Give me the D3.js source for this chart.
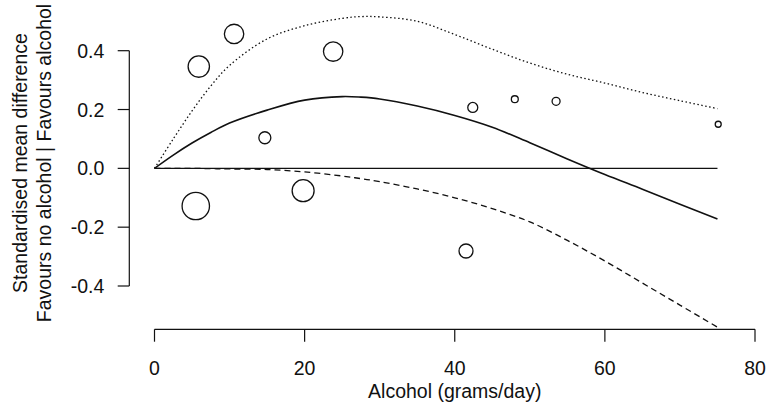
<!DOCTYPE html>
<html>
<head>
<meta charset="utf-8">
<script src="https://cdn.jsdelivr.net/npm/d3@7"></script>
<style>
  body { margin: 0; background: #fff; }
  text { font-family: "Liberation Sans", Arial, Helvetica, sans-serif; fill: #111; }
</style>
</head>
<body>
<div id="chart"></div>
<script>
// Study points (alcohol g/day, SMD, weight)
const studyDose = [5.9, 10.6, 23.8, 14.7, 5.5, 19.8, 41.5, 42.4, 48.0, 53.5, 75.1];
const studySmd = [0.346, 0.457, 0.397, 0.104, -0.128, -0.076, -0.281, 0.207, 0.235, 0.228, 0.150];
const studyWeight = [114, 94, 94, 36, 188, 121, 49, 25, 12, 16, 9];

// Fitted curve and confidence bounds
const curveDose = [0, 2.5, 5, 7.5, 10, 15, 20, 25, 27.5, 30, 35, 40, 45, 50, 55, 60, 65, 70, 75];
const fitSmd   = [0, 0.045, 0.086, 0.122, 0.154, 0.198, 0.232, 0.244, 0.242, 0.236, 0.212, 0.180, 0.140, 0.087, 0.032, -0.021, -0.071, -0.122, -0.172];
const upperSmd = [0, 0.10, 0.195, 0.28, 0.35, 0.44, 0.485, 0.51, 0.516, 0.515, 0.50, 0.455, 0.405, 0.358, 0.320, 0.29, 0.258, 0.23, 0.203];
const lowerSmd = [0, 0, 0, -0.001, -0.002, -0.004, -0.012, -0.026, -0.035, -0.045, -0.07, -0.10, -0.137, -0.182, -0.245, -0.315, -0.39, -0.465, -0.54];

const xTicks = [0, 20, 40, 60, 80];
const yTicks = [-0.4, -0.2, 0.0, 0.2, 0.4];

const svgWidth = 766, svgHeight = 404;

const svg = d3.select("#chart")
  .append("svg")
  .attr("width", svgWidth)
  .attr("height", svgHeight);

const x = d3.scaleLinear().domain([0, 80]).range([154.5, 755]);
const y = d3.scaleLinear().domain([-0.4, 0.4]).range([286, 50.7]);
const r = d3.scaleSqrt().domain([0, d3.max(studyWeight)]).range([0, 13.7]);

const fontSize = 19.5;

// x axis (R style: line spans first to last tick)
const xAxisG = svg.append("g").attr("transform", "translate(0,329.3)");
xAxisG.append("line")
  .attr("x1", x(xTicks[0])).attr("x2", x(xTicks[xTicks.length - 1]))
  .attr("stroke", "#111").attr("stroke-width", 1.2);
xAxisG.selectAll("line.tick")
  .data(xTicks).enter().append("line")
  .attr("class", "tick")
  .attr("x1", d => x(d)).attr("x2", d => x(d))
  .attr("y1", 0).attr("y2", 12.4)
  .attr("stroke", "#111").attr("stroke-width", 1.2);
xAxisG.selectAll("text")
  .data(xTicks).enter().append("text")
  .attr("x", d => x(d)).attr("y", 46)
  .attr("text-anchor", "middle")
  .attr("font-size", fontSize)
  .text(d => d);

svg.append("text")
  .attr("x", x(40)).attr("y", 398)
  .attr("text-anchor", "middle")
  .attr("font-size", fontSize)
  .text("Alcohol (grams/day)");

// y axis
const yAxisG = svg.append("g").attr("transform", "translate(129.3,0)");
yAxisG.append("line")
  .attr("y1", y(yTicks[0])).attr("y2", y(yTicks[yTicks.length - 1]))
  .attr("stroke", "#111").attr("stroke-width", 1.2);
yAxisG.selectAll("line.tick")
  .data(yTicks).enter().append("line")
  .attr("class", "tick")
  .attr("y1", d => y(d)).attr("y2", d => y(d))
  .attr("x1", 0).attr("x2", -11.6)
  .attr("stroke", "#111").attr("stroke-width", 1.2);
yAxisG.selectAll("text")
  .data(yTicks).enter().append("text")
  .attr("x", -25).attr("y", d => y(d))
  .attr("dy", "0.36em")
  .attr("text-anchor", "end")
  .attr("font-size", fontSize)
  .text(d => d.toFixed(1));

const yLabelY = 163;
svg.append("text")
  .attr("transform", `translate(27,${yLabelY})rotate(-90)`)
  .attr("text-anchor", "middle")
  .attr("font-size", fontSize)
  .text("Standardised mean difference");
svg.append("text")
  .attr("transform", `translate(51,${yLabelY})rotate(-90)`)
  .attr("text-anchor", "middle")
  .attr("font-size", fontSize)
  .text("Favours no alcohol | Favours alcohol");

// zero reference line
svg.append("line")
  .attr("x1", x(0)).attr("x2", x(d3.max(curveDose)))
  .attr("y1", y(0)).attr("y2", y(0))
  .attr("stroke", "#111").attr("stroke-width", 1.3);

// curves
const line = vals => d3.line()
  .x((d, i) => x(curveDose[i]))
  .y((d, i) => y(vals[i]))
  .curve(d3.curveCatmullRom.alpha(0.5))(vals);

svg.append("path")
  .attr("d", line(upperSmd))
  .attr("fill", "none").attr("stroke", "#111")
  .attr("stroke-width", 1.3).attr("stroke-dasharray", "1.5,2.5");

svg.append("path")
  .attr("d", line(lowerSmd))
  .attr("fill", "none").attr("stroke", "#111")
  .attr("stroke-width", 1.3).attr("stroke-dasharray", "6,4");

svg.append("path")
  .attr("d", line(fitSmd))
  .attr("fill", "none").attr("stroke", "#111")
  .attr("stroke-width", 1.6);

// study circles
svg.selectAll("circle")
  .data(studyDose)
  .enter()
  .append("circle")
  .attr("cx", d => x(d))
  .attr("cy", (d, i) => y(studySmd[i]))
  .attr("r", (d, i) => r(studyWeight[i]))
  .attr("fill", "none")
  .attr("stroke", "#111")
  .attr("stroke-width", 1.3);
</script>
</body>
</html>
